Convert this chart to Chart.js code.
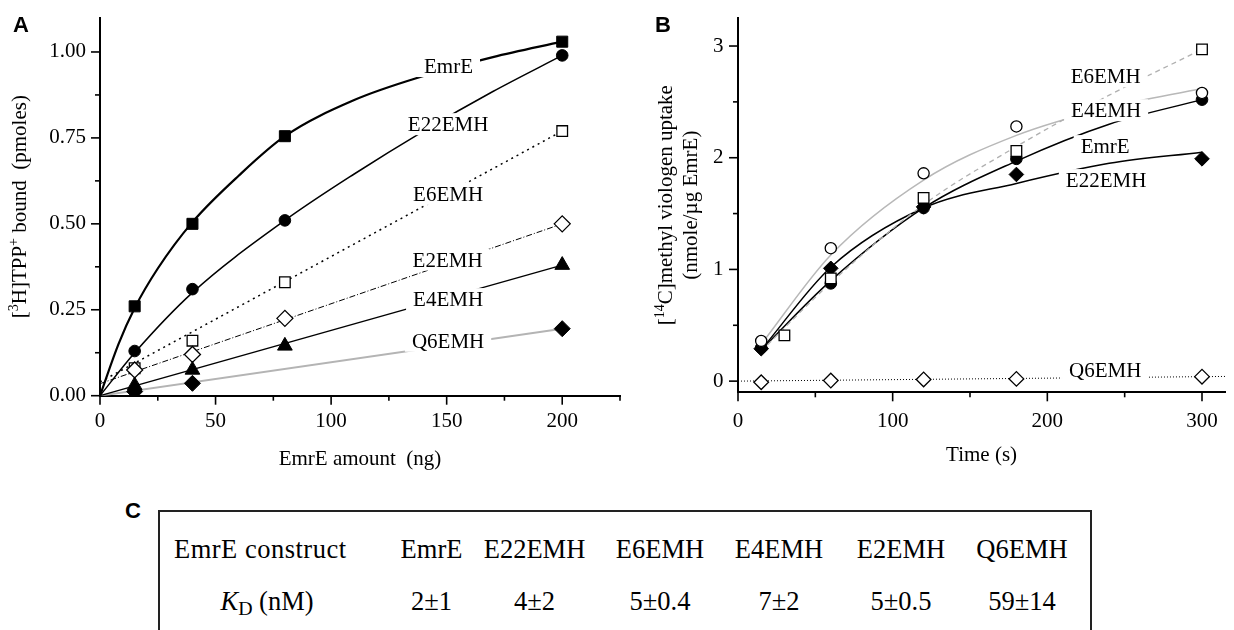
<!DOCTYPE html>
<html>
<head>
<meta charset="utf-8">
<script src="https://cdn.jsdelivr.net/npm/chart.js@4.4.1/dist/chart.umd.min.js"></script>
<style>
  body{margin:0;background:#fff;width:1234px;height:630px;overflow:hidden;position:relative;font-family:"Liberation Serif","Times New Roman",serif;color:#000}
  canvas{position:absolute;top:0}
  #chartA{left:0}
  #chartB{left:630px}
  .tag{position:absolute;font:bold 22px "Liberation Sans",Arial,sans-serif;line-height:1}
  #box{position:absolute;left:158px;top:510px;width:934px;height:130px;border:2px solid #222;border-bottom:none;box-sizing:border-box}
  .cell{position:absolute;font-size:26.5px;line-height:1;white-space:nowrap;transform:translateX(-50%)}
  .cell sub{font-size:0.75em;vertical-align:-0.25em}
</style>
</head>
<body>
<canvas id="chartA" width="630" height="480"></canvas>
<canvas id="chartB" width="604" height="480"></canvas>
<div class="tag" style="left:13px;top:14px">A</div>
<div class="tag" style="left:655px;top:14px">B</div>
<div class="tag" style="left:125px;top:500px">C</div>
<div id="box"></div>
<div id="table"></div>

<script>
const serif='"Liberation Serif", "Times New Roman", serif';

// ---- panel A: [3H]TPP+ binding vs EmrE amount
const aAmount=[15, 40, 80, 200];
const aEmrE=[0.26, 0.50, 0.755, 1.03];
const aE22EMH=[0.13, 0.31, 0.51, 0.99];
const aE6EMH=[0.08, 0.16, 0.33, 0.77];
const aE2EMH=[0.075, 0.12, 0.225, 0.50];
const aE4EMH=[0.03, 0.075, 0.145, 0.38];
const aQ6EMH=[0.012, 0.036, null, 0.195];

// fitted curves
const aFitEmrEX=[0, 8, 15, 25, 40, 60, 80, 110, 140, 170, 200];
const aFitEmrEY=[0, 0.15, 0.255, 0.37, 0.505, 0.64, 0.755, 0.86, 0.93, 0.985, 1.03];
const aFitE22X=[0, 15, 40, 80, 110, 140, 170, 200];
const aFitE22Y=[0, 0.125, 0.30, 0.51, 0.645, 0.77, 0.885, 0.99];
const aFitLinX=[0, 200];
const aFitE6Y=[0.04, 0.77];
const aFitE2Y=[0.035, 0.50];
const aFitE4Y=[0, 0.38];
const aFitQ6Y=[0, 0.195];

const aXTicks=[0, 25, 50, 75, 100, 125, 150, 175, 200, 225];
const aXLabels=[0, 50, 100, 150, 200];
const aYTicks=[0, 0.125, 0.25, 0.375, 0.5, 0.625, 0.75, 0.875, 1.0];
const aYLabels=[0, 0.25, 0.5, 0.75, 1.0];

// ---- panel B: methyl viologen uptake vs time
const bTime=[15, 60, 120, 180, 300];
const bE6Time=[30, 60, 120, 180, 300];
const bE6EMH=[0.41, 0.92, 1.64, 2.06, 2.97];
const bE4EMH=[0.36, 1.19, 1.86, 2.28, 2.58];
const bEmrE=[0.30, 0.875, 1.55, 1.99, 2.52];
const bE22EMH=[0.29, 1.01, 1.56, 1.85, 1.99];
const bQ6EMH=[-0.01, 0.005, 0.015, 0.02, 0.04];

const bFitX=[15, 60, 120, 180, 240, 300];
const bFitE6=[0.27, 0.88, 1.58, 2.10, 2.56, 2.97];
const bFitE4=[0.33, 1.13, 1.80, 2.20, 2.45, 2.62];
const bFitEmrE=[0.28, 0.90, 1.55, 1.97, 2.30, 2.52];
const bFitE22=[0.28, 1.02, 1.55, 1.77, 1.95, 2.05];
const bFitQ6X=[0, 315];
const bFitQ6=[0, 0.042];

const bXTicks=[0, 50, 100, 150, 200, 250, 300];
const bXLabels=[0, 100, 200, 300];
const bYTicks=[0, 0.5, 1, 1.5, 2, 2.5, 3];
const bYLabels=[0, 1, 2, 3];

// ---- panel C table
const constructs=["EmrE", "E22EMH", "E6EMH", "E4EMH", "E2EMH", "Q6EMH"];
const kdValues=["2±1", "4±2", "5±0.4", "7±2", "5±0.5", "59±14"];
const colX=[431.5, 534.5, 660, 779, 901, 1022];

function pts(xs, ys){
  return xs.map((x, i)=>({x: x, y: ys[i]})).filter(p=>p.y!==null);
}

function markers(xs, ys, style, r, filled){
  return {
    data: pts(xs, ys), showLine: false, order: 1,
    pointStyle: style, pointRadius: r, pointHoverRadius: r,
    pointBackgroundColor: filled ? "#000" : "#fff",
    pointBorderColor: "#000", pointBorderWidth: filled ? 1 : 1.3
  };
}

function fit(xs, ys, color, width, dash){
  return {
    data: pts(xs, ys), showLine: true, order: 2, pointRadius: 0,
    borderColor: color, borderWidth: width, borderDash: dash || [],
    cubicInterpolationMode: "monotone", fill: false
  };
}

function axis(min, max, ticks, labelled, fmt, size, pad){
  return {
    type: "linear", min: min, max: max,
    afterBuildTicks: s=>{ s.ticks=ticks.map(v=>({value: v})); },
    afterFit: s=>{ if (s.isHorizontal()) s.height=size; else s.width=size; },
    ticks: {
      autoSkip: false, maxRotation: 0, padding: pad, color: "#000",
      font: {family: serif, size: 21},
      callback: v=>labelled.includes(v) ? fmt(v) : ""
    },
    grid: {drawOnChartArea: false, tickLength: 9, tickColor: "rgba(0,0,0,0)"},
    border: {color: "#000", width: 2}
  };
}

function drawRich(ctx, runs, x, y, rot){
  ctx.save();
  ctx.translate(x, y);
  ctx.rotate(rot);
  let w=0;
  runs.forEach(r=>{
    ctx.font=(r[1] ? 14 : 21)+"px "+serif;
    r.w=ctx.measureText(r[0]).width;
    w+=r.w;
  });
  let cx=-w/2;
  ctx.fillStyle="#000";
  ctx.textAlign="left";
  runs.forEach(r=>{
    ctx.font=(r[1] ? 14 : 21)+"px "+serif;
    ctx.fillText(r[0], cx, r[1] ? -8 : 0);
    cx+=r.w;
  });
  ctx.restore();
}

function decor(labels, titles){
  return {
    id: "decor",
    afterDatasetsDraw(chart){
      const ctx=chart.ctx, x=chart.scales.x, y=chart.scales.y;
      ctx.save();
      ctx.font="21px "+serif;
      ctx.textAlign="center";
      labels.forEach(l=>{
        const px=x.getPixelForValue(l.x), py=y.getPixelForValue(l.y);
        const w=ctx.measureText(l.text).width;
        ctx.fillStyle="#fff";
        ctx.fillRect(px-w/2-7, py-11, w+14, 22);
        ctx.fillStyle="#000";
        ctx.fillText(l.text, px, py+7);
      });
      ctx.restore();
    },
    afterDraw(chart){
      const ctx=chart.ctx;
      ctx.save();
      ctx.strokeStyle="#000";
      ctx.lineWidth=1.6;
      [chart.scales.x, chart.scales.y].forEach(s=>{
        s.ticks.forEach(t=>{
          const len=t.label ? 9 : 5;
          const p=s.getPixelForValue(t.value);
          ctx.beginPath();
          if (s.isHorizontal()){ ctx.moveTo(p, s.top); ctx.lineTo(p, s.top+len); }
          else { ctx.moveTo(s.right, p); ctx.lineTo(s.right-len, p); }
          ctx.stroke();
        });
      });
      ctx.restore();
      const area=chart.chartArea;
      titles.forEach(t=>{
        const ty=t.y==="mid" ? (area.top+area.bottom)/2 : t.y;
        const tx=t.x==="mid" ? (area.left+area.right)/2 : t.x;
        drawRich(ctx, t.runs, tx, ty, t.rot);
      });
    }
  };
}

const baseOptions=(pad, xAx, yAx)=>({
  responsive: false, animation: false,
  layout: {padding: pad},
  plugins: {legend: {display: false}, tooltip: {enabled: false}},
  scales: {x: xAx, y: yAx}
});

new Chart(document.getElementById("chartA"), {
  type: "scatter",
  data: {datasets: [
    fit(aFitEmrEX, aFitEmrEY, "#000", 2.2),
    fit(aFitE22X, aFitE22Y, "#000", 1.5),
    fit(aFitLinX, aFitE6Y, "#000", 1.5, [2, 4]),
    fit(aFitLinX, aFitE2Y, "#000", 1, [6, 2, 1, 2]),
    fit(aFitLinX, aFitE4Y, "#000", 1.3),
    fit(aFitLinX, aFitQ6Y, "#b4b4b4", 2),
    markers(aAmount, aQ6EMH, "rectRot", 8, true),
    markers(aAmount, aE4EMH, "triangle", 8.5, true),
    markers(aAmount, aE2EMH, "rectRot", 8, false),
    markers(aAmount, aE6EMH, "rect", 7.5, false),
    markers(aAmount, aE22EMH, "circle", 5.8, true),
    markers(aAmount, aEmrE, "rect", 7.8, true)
  ]},
  options: baseOptions({left: 0, top: 12, right: 10, bottom: 0},
    axis(0, 225, aXTicks, aXLabels, v=>String(v), 84.3, 4),
    axis(0, 1.1, aYTicks, aYLabels, v=>v.toFixed(2), 100, 5)),
  plugins: [decor([
    {text: "EmrE", x: 150.8, y: 0.959},
    {text: "E22EMH", x: 150.6, y: 0.790},
    {text: "E6EMH", x: 150.6, y: 0.587},
    {text: "E2EMH", x: 150.4, y: 0.396},
    {text: "E4EMH", x: 150.6, y: 0.281},
    {text: "Q6EMH", x: 150.6, y: 0.160}
  ], [
    {runs: [["[", 0], ["3", 1], ["H]TPP", 0], ["+", 1], [" bound  (pmoles)", 0]], x: 26, y: "mid", rot: -Math.PI/2},
    {runs: [["EmrE amount  (ng)", 0]], x: "mid", y: 465, rot: 0}
  ])]
});

new Chart(document.getElementById("chartB"), {
  type: "scatter",
  data: {datasets: [
    fit(bFitQ6X, bFitQ6, "#000", 1, [1, 2]),
    fit(bFitX, bFitE6, "#b0b0b0", 1.3, [5, 4]),
    fit(bFitX, bFitE4, "#b8b8b8", 1.5),
    fit(bFitX, bFitE22, "#000", 1.5),
    fit(bFitX, bFitEmrE, "#000", 1.5),
    markers(bTime, bQ6EMH, "rectRot", 7.3, false),
    markers(bE6Time, bE6EMH, "rect", 7.5, false),
    markers(bTime, bE4EMH, "circle", 5.6, false),
    markers(bTime, bE22EMH, "rectRot", 7.3, true),
    markers(bTime, bEmrE, "circle", 5.8, true)
  ]},
  options: baseOptions({left: 0, top: 17, right: 1, bottom: 0},
    axis(0, 315, bXTicks, bXLabels, v=>String(v), 87.7, 8),
    axis(-0.1, 3.25, bYTicks, bYLabels, v=>String(v), 108, 5.5)),
  plugins: [decor([
    {text: "E6EMH", x: 237.7, y: 2.729},
    {text: "E4EMH", x: 238.0, y: 2.425},
    {text: "EmrE", x: 237.4, y: 2.104},
    {text: "E22EMH", x: 238.0, y: 1.800},
    {text: "Q6EMH", x: 237.4, y: 0.099}
  ], [
    {runs: [["[", 0], ["14", 1], ["C]methyl viologen uptake", 0]], x: 42, y: "mid", rot: -Math.PI/2},
    {runs: [["(nmole/µg EmrE)", 0]], x: 67, y: "mid", rot: -Math.PI/2},
    {runs: [["Time (s)", 0]], x: "mid", y: 461, rot: 0}
  ])]
});

// table of KD values
let html='<div class="cell" style="left:174px;top:536px;transform:none;letter-spacing:0.5px">EmrE construct</div>'+
  '<div class="cell" style="left:267px;top:588px"><i>K</i><sub>D</sub> (nM)</div>';
constructs.forEach((c, i)=>{
  html+='<div class="cell" style="left:'+colX[i]+'px;top:536px">'+c+'</div>';
  html+='<div class="cell" style="left:'+colX[i]+'px;top:588px">'+kdValues[i]+'</div>';
});
document.getElementById("table").innerHTML=html;
</script>
</body>
</html>
